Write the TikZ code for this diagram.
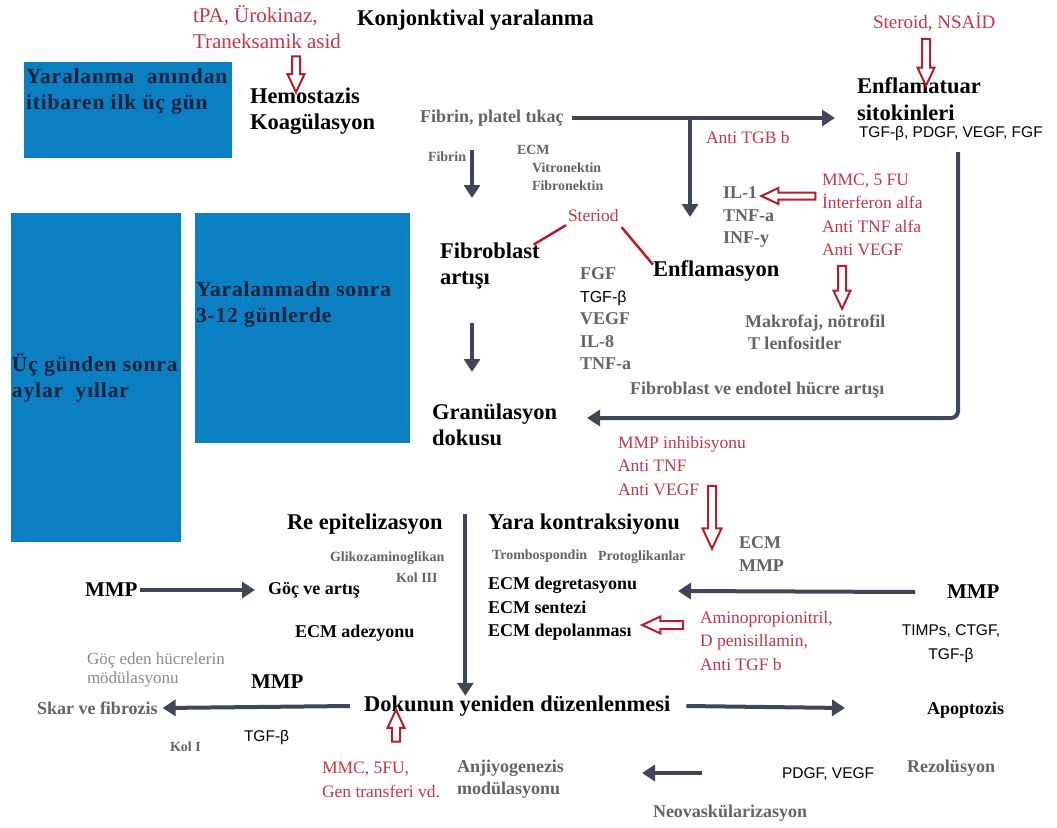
\documentclass[tikz,border=0pt]{standalone}
\usepackage{fontspec}
\setmainfont{Liberation Serif}
\setsansfont{Liberation Sans}
\usepackage{tikz}
\usetikzlibrary{arrows.meta, positioning, calc, shapes.arrows}
\definecolor{cBox}{HTML}{0A7FC1}
\definecolor{cBoxText}{HTML}{16213A}
\definecolor{cArr}{HTML}{3E4658}
\definecolor{cGrayT}{HTML}{646464}
\definecolor{cLight}{HTML}{8A8A8A}
\definecolor{cRedT}{HTML}{C2364A}
\definecolor{cRedA}{HTML}{B51E2C}

\begin{document}
\begin{tikzpicture}[
    x=1pt, y=-1pt,
    every node/.style={inner sep=0pt, outer sep=0pt, anchor=west, align=left},
    hd/.style={font=\fontsize{22.5}{26.5}\selectfont\bfseries, text=black},
    bk/.style={font=\fontsize{18}{23.5}\selectfont\bfseries, text=black},
    gb/.style={font=\fontsize{18}{22.5}\selectfont\bfseries, text=cGrayT},
    gs/.style={font=\fontsize{14}{18}\selectfont\bfseries, text=cGrayT},
    rd/.style={font=\fontsize{17.5}{23.5}\selectfont, text=cRedT},
    rdl/.style={font=\fontsize{21}{26}\selectfont, text=cRedT},
    sf/.style={font=\fontsize{15.5}{24}\selectfont\sffamily, text=black},
    phase/.style={fill=cBox, anchor=north west},
    boxtxt/.style={font=\fontsize{21.5}{26}\selectfont\bfseries\addfontfeature{LetterSpace=4},
                   text=cBoxText, anchor=north west},
    arr/.style={-{Triangle[length=13pt, width=16pt]}, line width=4pt, draw=cArr},
    hollow/.style={single arrow, draw=cRedA, line width=2pt, fill=white, anchor=center,
                   inner sep=3pt, minimum width=15pt, single arrow head extend=4.5pt,
                   single arrow tip angle=50},
    link/.style={draw=cRedA, line width=2.5pt},
  ]
  \useasboundingbox (0,0) rectangle (1057,827);

  % time frames
  \node[phase, minimum width=208pt, minimum height=96pt]  (p1) at (24,62)  {};
  \node[phase, minimum width=170pt, minimum height=329pt] (p2) at (11,213) {};
  \node[phase, minimum width=215pt, minimum height=230pt] (p3) at (195,213) {};
  \node[boxtxt, below right=7pt and 2pt of p1.north west]   (p1t) {Yaralanma\ \ anından\\itibaren ilk üç gün};
  \node[boxtxt, below right=141pt and 1pt of p2.north west] (p2t) {Üç günden sonra\\aylar\ \ yıllar};
  \node[boxtxt, below right=69pt and 1pt of p3.north west]  (p3t) {Yaralanmadn sonra\\3-12 günlerde};

  % early phase
  \node[rdl] (tpa)   at (193,27)  {tPA, Ürokinaz,\\Traneksamik asid};
  \node[hd]  (konj)  at (357,20)  {Konjonktival yaralanma};
  \node[rd, font=\fontsize{19}{23}\selectfont] (nsaid) at (873,22) {Steroid, NSAİD};
  \node[hd]  (hemo)  at (250,111) {Hemostazis\\Koagülasyon};
  \node[hd]  (enf)   at (857,99)  {Enflamatuar\\sitokinleri};
  \node[sf]  (tgfa)  at (859,133) {TGF-β, PDGF, VEGF, FGF};
  \node[gb]  (fpt)   at (420,118) {Fibrin, platel tıkaç};
  \node[rd]  (antitgb) at (706,138) {Anti TGB b};
  \node[gs]  (fibrin) at (428,157) {Fibrin};
  \node[gs]  (ecm1)  at (517,150) {ECM};
  \node[gs]  (vitro) at (532,168) {Vitronektin};
  \node[gs]  (fibro) at (532,186) {Fibronektin};
  \node[gb]  (il)    at (723,217) {IL-1\\TNF-a\\INF-y};
  \node[rd]  (mmc1)  at (822,215) {MMC, 5 FU\\İnterferon alfa\\Anti TNF alfa\\Anti VEGF};
  \node[gb, font=\fontsize{18}{21.5}\selectfont\bfseries] (mak) at (745,332) {Makrofaj, nötrofil\\\,T lenfositler};
  \node[rd]  (ster)  at (568,216) {Steriod};
  \node[hd]  (fibart) at (440,266) {Fibroblast\\artışı};
  \node[hd]  (enfl)  at (653,271) {Enflamasyon};
  \node[gb]  (gf)    at (580,319) {FGF\\{\fontsize{16}{22}\selectfont\sffamily\mdseries\color{black}TGF-β}\\VEGF\\IL-8\\TNF-a};
  \node[gb]  (feh)   at (630,390) {Fibroblast ve endotel hücre artışı};
  \node[hd]  (gran)  at (432,425) {Granülasyon\\dokusu};

  % late phase
  \node[rd]  (mmpinh) at (618,466) {MMP inhibisyonu\\Anti TNF\\Anti VEGF};
  \node[hd]  (reep)  at (287,524) {Re epitelizasyon};
  \node[hd]  (yara)  at (488,524) {Yara kontraksiyonu};
  \node[gs]  (glik)  at (330,558) {Glikozaminoglikan};
  \node[gs]  (kol3)  at (396,578) {Kol III};
  \node[gs]  (tromb) at (492,556) {Trombospondin};
  \node[gs]  (protog) at (598,557) {Protoglikanlar};
  \node[gb]  (ecmmmp) at (739,554) {ECM\\MMP};
  \node[hd, font=\fontsize{21}{24}\selectfont\bfseries] (mmpl) at (85,590) {MMP};
  \node[bk]  (goc)   at (268,590) {Göç ve artış};
  \node[bk]  (ecmd)  at (488,609) {ECM degretasyonu\\ECM sentezi\\ECM depolanması};
  \node[hd, font=\fontsize{21}{24}\selectfont\bfseries] (mmpr) at (947,592) {MMP};
  \node[rd]  (amino) at (700,641) {Aminopropionitril,\\D penisillamin,\\Anti TGF b};
  \node[sf, align=center, anchor=center] (timps) at (951,644) {TIMPs, CTGF,\\TGF-β};
  \node[bk]  (ecmadh) at (295,633) {ECM adezyonu};
  \node[font=\fontsize{17}{18.5}\selectfont, text=cLight] (gocm) at (87,670) {Göç eden hücrelerin\\mödülasyonu};
  \node[hd, font=\fontsize{21}{24}\selectfont\bfseries] (mmpm) at (251,682) {MMP};
  \node[gb]  (skar)  at (37,708)  {Skar ve fibrozis};
  \node[hd]  (dok)   at (364,706) {Dokunun yeniden düzenlenmesi};
  \node[bk]  (apop)  at (927,710) {Apoptozis};
  \node[sf]  (tgfb)  at (244,737) {TGF-β};
  \node[gs]  (kol1)  at (170,747) {Kol I};
  \node[rd]  (mmc2)  at (322,780) {MMC, 5FU,\\Gen transferi vd.};
  \node[gb]  (anj)   at (457,779) {Anjiyogenezis\\modülasyonu};
  \node[sf]  (pdgf)  at (782,774) {PDGF, VEGF};
  \node[gb]  (rez)   at (907,768) {Rezolüsyon};
  \node[gb]  (neo)   at (653,813) {Neovaskülarizasyon};

  % dark arrows
  \coordinate (fork) at (690,118);
  \coordinate (fa) at (472,150);  \coordinate (fb) at (472,198);
  \coordinate (fc) at (472,323);  \coordinate (fd) at (472,372);
  \coordinate (loop) at (958,152); \coordinate (granin) at (587,418);
  \coordinate (ecmin) at (678,591);
  \coordinate (apin) at (845,708);
  \coordinate (pdout) at (702,773); \coordinate (anjin) at (642,773);
  \draw[arr] ([xshift=8pt]fpt.east) -- ([xshift=-22pt]fpt.east -| enf.west);
  \draw[arr] (fork) -- (fork |- il.center);
  \draw[arr] (fa) -- (fb);
  \draw[arr] (fc) -- (fd);
  \draw[arr, rounded corners=7pt] (loop) |- (granin);
  \draw[arr] ([xshift=3pt]mmpl.east) -- ([xshift=-13pt]goc.west);
  \coordinate (vtop) at ($(reep.north east)!0.5!(yara.north west)$);
  \draw[arr] (vtop) -- (vtop |- dok.north);
  \draw[arr] ([xshift=-32pt]mmpr.west) -- (ecmin);
  \draw[arr] ([xshift=-14pt]dok.west) -- ([xshift=5pt]skar.east);
  \draw[arr] ([xshift=16pt]dok.east) -- (apin);
  \draw[arr] (pdout) -- (anjin);

  % red treatment arrows
  \node[hollow, minimum height=36pt, rotate=-90] (h1) at (296,70)  {};
  \node[hollow, minimum height=47pt, rotate=-90] (h2) at (926,58)  {};
  \node[hollow, minimum height=54pt, rotate=180, inner sep=2.5pt] (h3) at (792,196) {};
  \node[hollow, minimum height=43pt, rotate=-90] (h4) at (842,283) {};
  \node[hollow, minimum height=63pt, rotate=-90, minimum width=18pt,
        single arrow head extend=5.5pt] (h5) at (712,513) {};
  \node[hollow, minimum height=41pt, rotate=180] (h6) at (667,625) {};
  \node[hollow, minimum height=32pt, rotate=90]  (h7) at (396,730) {};

  \draw[link] ([xshift=-2pt, yshift=-3pt]ster.south west) -- ([xshift=-6pt, yshift=-2pt]fibart.north east);
  \draw[link] ([xshift=3pt, yshift=-5pt]ster.south east) -- ([yshift=-4pt]enfl.north west);
\end{tikzpicture}
\end{document}
